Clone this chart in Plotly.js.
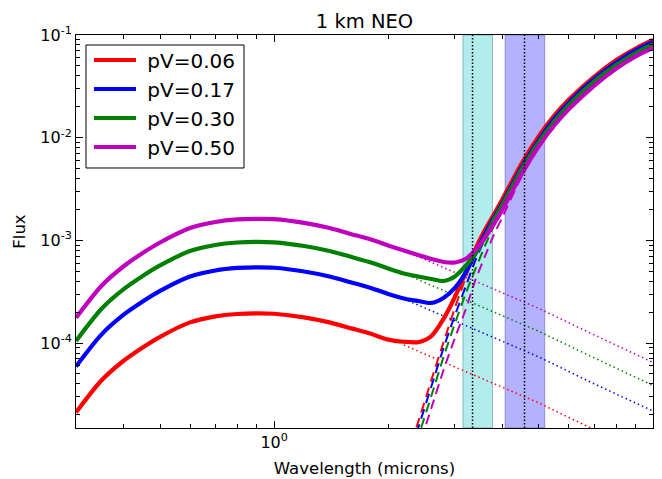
<!DOCTYPE html>
<html><head><meta charset="utf-8">
<script src="https://cdn.plot.ly/plotly-3.0.1.min.js"></script>
<style>html,body{margin:0;padding:0;background:#fff;} #chart{width:662px;height:479px;}</style>
</head><body><div id="chart"></div>
<script>
// Total flux (solid curves)
const wavelength = [0.3,0.35,0.4,0.45,0.5,0.6,0.7,0.8,0.9,1.0,1.2,1.4,1.6,1.8,2.0,2.2,2.4,2.6,2.8,3.0,3.2,3.4,3.6,3.8,4.0,4.5,5.0,5.5,6,7,8,9,10];
const fluxPv006 = [2.11e-5,4.32e-5,6.69e-5,9.06e-5,1.15e-4,1.59e-4,1.82e-4,1.92e-4,1.95e-4,1.93e-4,1.78e-4,1.59e-4,1.39e-4,1.23e-4,1.08e-4,1.03e-4,1.02e-4,1.17e-4,1.72e-4,2.81e-4,4.82e-4,8.25e-4,1.26e-3,1.79e-3,2.50e-3,5.61e-3,1.04e-2,1.66e-2,2.36e-2,3.94e-2,5.71e-2,7.39e-2,8.94e-2];
const fluxPv017 = [5.92e-5,1.21e-4,1.88e-4,2.54e-4,3.22e-4,4.45e-4,5.09e-4,5.39e-4,5.47e-4,5.41e-4,4.98e-4,4.45e-4,3.89e-4,3.44e-4,3.01e-4,2.72e-4,2.57e-4,2.46e-4,2.75e-4,3.44e-4,4.82e-4,7.54e-4,1.15e-3,1.65e-3,2.29e-3,5.13e-3,9.50e-3,1.54e-2,2.20e-2,3.73e-2,5.40e-2,7.07e-2,8.55e-2];
const fluxPv030 = [1.05e-4,2.15e-4,3.33e-4,4.50e-4,5.70e-4,7.89e-4,9.02e-4,9.54e-4,9.69e-4,9.58e-4,8.82e-4,7.89e-4,6.89e-4,6.09e-4,5.33e-4,4.76e-4,4.45e-4,4.21e-4,4.02e-4,4.45e-4,5.63e-4,7.46e-4,1.08e-3,1.58e-3,2.21e-3,4.90e-3,9.08e-3,1.45e-2,2.08e-2,3.53e-2,5.10e-2,6.68e-2,8.08e-2];
const fluxPv050 = [1.76e-4,3.60e-4,5.57e-4,7.54e-4,9.54e-4,1.32e-3,1.51e-3,1.60e-3,1.62e-3,1.61e-3,1.48e-3,1.32e-3,1.15e-3,1.02e-3,8.92e-4,7.97e-4,7.21e-4,6.59e-4,6.16e-4,6.09e-4,6.59e-4,8.06e-4,1.06e-3,1.44e-3,1.98e-3,4.43e-3,8.30e-3,1.33e-2,1.90e-2,3.22e-2,4.72e-2,6.18e-2,7.47e-2];

// Reflected component (dotted)
const reflWavelength = [2.2,3.0,4.0,5.0,7.0,10.0];
const reflPv006 = [9.58e-5,5.85e-5,3.70e-5,2.61e-5,1.43e-5,7.78e-6];
const reflPv017 = [2.69e-4,1.64e-4,1.04e-4,7.32e-5,4.00e-5,2.18e-5];
const reflPv030 = [4.76e-4,2.91e-4,1.84e-4,1.30e-4,7.16e-5,3.87e-5];
const reflPv050 = [7.97e-4,4.87e-4,3.08e-4,2.17e-4,1.20e-4,6.47e-5];

// Thermal component (dashed)
const thermWavelength = [2.3,2.4,2.6,2.8,3.0,3.2,3.4,3.6,3.8,4.0,4.5,5.0,5.5,6,7,8,9,10];
const thermPv006 = [1.07e-5,1.70e-5,4.37e-5,1.02e-4,2.20e-4,4.30e-4,7.71e-4,1.21e-3,1.73e-3,2.45e-3,5.55e-3,1.03e-2,1.64e-2,2.33e-2,3.90e-2,5.64e-2,7.31e-2,8.84e-2];
const thermPv017 = [9.31e-6,1.49e-5,3.78e-5,8.96e-5,1.86e-4,3.52e-4,6.44e-4,1.03e-3,1.55e-3,2.19e-3,5.01e-3,9.39e-3,1.52e-2,2.18e-2,3.69e-2,5.34e-2,6.99e-2,8.45e-2];
const thermPv030 = [7.61e-6,1.22e-5,3.05e-5,7.32e-5,1.55e-4,3.01e-4,5.27e-4,8.82e-4,1.38e-3,2.04e-3,4.74e-3,8.88e-3,1.44e-2,2.06e-2,3.49e-2,5.05e-2,6.61e-2,7.99e-2];
const thermPv050 = [5.81e-6,9.31e-6,2.33e-5,5.47e-5,1.12e-4,2.10e-4,4.12e-4,6.97e-4,1.13e-3,1.67e-3,4.19e-3,8.12e-3,1.31e-2,1.88e-2,3.19e-2,4.67e-2,6.11e-2,7.39e-2];

const seriesLabels = ['pV=0.06','pV=0.17','pV=0.30','pV=0.50'];
const bandW1 = [3.15, 3.77];
const bandW2 = [4.07, 5.18];
const bandCenters = [3.34, 4.58];
const xTickVals = [1, 10];
const xTickText = ['10<sup>0</sup>','10<sup>1</sup>'];
const xMinorTicks = [0.3,0.4,0.5,0.6,0.7,0.8,0.9,2,3,4,5,6,7,8,9];
const yTickVals = [1e-4, 1e-3, 1e-2, 1e-1];
const yTickText = ['10<sup>-4</sup>','10<sup>-3</sup>','10<sup>-2</sup>','10<sup>-1</sup>'];
const yMinorTicks = [2e-5,3e-5,4e-5,5e-5,6e-5,7e-5,8e-5,9e-5,2e-4,3e-4,4e-4,5e-4,6e-4,7e-4,8e-4,9e-4,
                     2e-3,3e-3,4e-3,5e-3,6e-3,7e-3,8e-3,9e-3,2e-2,3e-2,4e-2,5e-2,6e-2,7e-2,8e-2,9e-2];

const colors = ['#ff0000','#0000ff','#008000','#bf00bf'];
const totals = [fluxPv006, fluxPv017, fluxPv030, fluxPv050];
const refls = [reflPv006, reflPv017, reflPv030, reflPv050];
const therms = [thermPv006, thermPv017, thermPv030, thermPv050];

const traces = [];
for (let i = 0; i < 4; i++) {
  traces.push({x: reflWavelength, y: refls[i], mode: 'lines', showlegend: false, hoverinfo: 'skip',
    line: {color: colors[i], width: 1.5, dash: '1.5px,3px'}});
  traces.push({x: thermWavelength, y: therms[i], mode: 'lines', showlegend: false, hoverinfo: 'skip',
    line: {color: colors[i], width: 2, dash: '10px,6px', shape: 'spline', smoothing: 0.6}});
}
for (let i = 0; i < 4; i++) {
  traces.push({x: wavelength, y: totals[i], mode: 'lines', name: '\u00a0' + seriesLabels[i], legendgroup: 'g' + i,
    line: {color: colors[i], width: 4.2, shape: 'spline', smoothing: 0.8}});
}

const shapes = [
  {type: 'rect', xref: 'x', yref: 'paper', x0: bandW1[0], x1: bandW1[1], y0: 0, y1: 1,
   fillcolor: 'rgb(178,236,236)', line: {color: 'rgba(0,90,90,0.35)', width: 1}, layer: 'below'},
  {type: 'rect', xref: 'x', yref: 'paper', x0: bandW2[0], x1: bandW2[1], y0: 0, y1: 1,
   fillcolor: 'rgb(178,178,255)', line: {color: 'rgba(0,0,90,0.3)', width: 1}, layer: 'below'},
  // legend frame
  {type: 'rect', xref: 'paper', yref: 'paper', x0: 0.01733, x1: 0.29116, y0: 0.66158, y1: 0.97455,
   fillcolor: 'white', line: {color: 'black', width: 1}, layer: 'above'}
];
bandCenters.forEach(c => shapes.push({type: 'line', xref: 'x', yref: 'paper', x0: c, x1: c, y0: 0, y1: 1,
  line: {color: 'black', width: 1.5, dash: '1.5px,2px'}, layer: 'above'}));

const font = 'DejaVu Sans, Verdana, sans-serif';
const axisCommon = {
  type: 'log', showline: true, linecolor: 'black', linewidth: 1, mirror: 'allticks',
  ticks: 'inside', ticklen: 7, tickwidth: 1, tickcolor: 'black', showgrid: false, zeroline: false,
  tickmode: 'array', tickfont: {family: font, size: 16, color: 'black'}
};
const minorCommon = {tickmode: 'array', ticks: 'inside', ticklen: 4, tickwidth: 1, tickcolor: 'black', showgrid: false};

const layout = {
  width: 662, height: 479,
  margin: {l: 76, r: 9, t: 35, b: 51},
  paper_bgcolor: 'white', plot_bgcolor: 'white',
  font: {family: font, color: 'black'},
  title: {text: '1 km NEO', font: {family: font, size: 19.5, color: 'black'}, xref: 'paper', x: 0.5,
          yref: 'container', y: 0.955, yanchor: 'middle'},
  xaxis: Object.assign({}, axisCommon, {range: [Math.log10(0.3), 1], tickvals: xTickVals, ticktext: xTickText,
          minor: Object.assign({}, minorCommon, {tickvals: xMinorTicks}),
          title: {text: 'Wavelength (microns)', font: {family: font, size: 16.5, color: 'black'}, standoff: 11}}),
  yaxis: Object.assign({}, axisCommon, {range: [-4.827, -1], tickvals: yTickVals, ticktext: yTickText,
          minor: Object.assign({}, minorCommon, {tickvals: yMinorTicks}),
          title: {text: 'Flux', font: {family: font, size: 16.5, color: 'black'}, standoff: 10}}),
  legend: {x: 0.0225, y: 0.986, xanchor: 'left', yanchor: 'top', bgcolor: 'rgba(0,0,0,0)',
           borderwidth: 0, font: {family: font, size: 20, color: 'black'},
           tracegroupgap: 0, itemwidth: 42},
  shapes: shapes,
  showlegend: true
};

Plotly.newPlot('chart', traces, layout, {displayModeBar: false, staticPlot: true});
</script></body></html>
